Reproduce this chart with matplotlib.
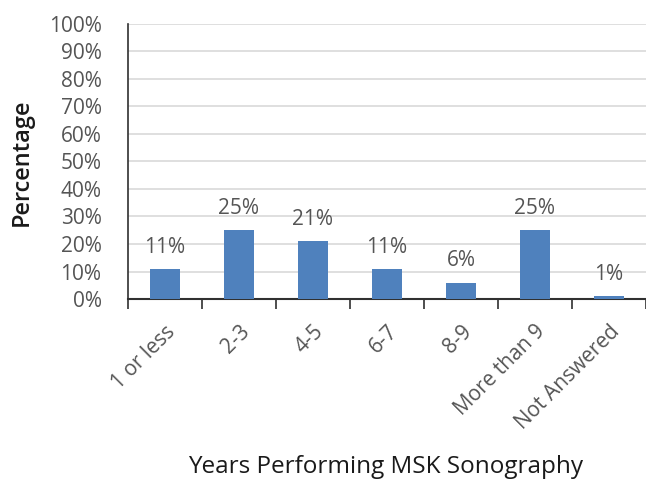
import matplotlib
matplotlib.use("Agg")
import matplotlib.pyplot as plt
from matplotlib.ticker import PercentFormatter

# Values
categories = ["1 or less", "2-3", "4-5", "6-7", "8-9", "More than 9", "Not Answered"]
percentages = [11, 25, 21, 11, 6, 25, 1]
y_ticks = list(range(0, 101, 10))

plt.rcParams["font.family"] = ["Open Sans", "DejaVu Sans"]
text_color = "#555555"

fig = plt.figure(figsize=(6.46, 4.87), dpi=100)
ax = fig.add_axes([0.198, 0.386, 0.802, 0.565])

x = list(range(len(categories)))
bars = ax.bar(x, percentages, width=0.4, color="#4F81BD", zorder=3)

for rect, val in zip(bars, percentages):
    ax.annotate(f"{val}%", (rect.get_x() + rect.get_width() / 2, rect.get_height()),
                xytext=(0, 8), textcoords="offset points", ha="center", va="bottom",
                fontsize=15, color=text_color)

ax.set_xlim(-0.5, len(categories) - 0.5)
ax.set_ylim(0, 100)
ax.set_yticks(y_ticks)
ax.yaxis.set_major_formatter(PercentFormatter(decimals=0))
ax.tick_params(axis="y", length=0, pad=19, labelsize=15, labelcolor=text_color)
ax.grid(axis="y", color="#d9d9d9", linewidth=1.2, zorder=0)

# category ticks sit on the boundaries between bars
ax.set_xticks([i - 0.5 for i in range(len(categories) + 1)])
ax.set_xticklabels([])
ax.set_xticks(x, minor=True)
ax.set_xticklabels(categories, minor=True, rotation=45, ha="right",
                   rotation_mode="anchor", fontsize=15, color=text_color)
ax.tick_params(axis="x", which="major", length=7, width=1.2, color="#303030")
ax.tick_params(axis="x", which="minor", length=0, pad=16)

for side in ["top", "right"]:
    ax.spines[side].set_visible(False)
ax.spines["left"].set_color("#303030")
ax.spines["left"].set_linewidth(1.2)
ax.spines["bottom"].set_color("#303030")
ax.spines["bottom"].set_linewidth(1.5)

fig.text(22 / 646, 0.667, "Percentage", rotation=90, ha="center", va="center",
         fontsize=17, fontweight="semibold", color="#1a1a1a")
fig.text(0.597, 0.041, "Years Performing MSK Sonography", ha="center", va="center",
         fontsize=17.5, color="#1a1a1a")

fig.savefig("out.png", dpi=100)
